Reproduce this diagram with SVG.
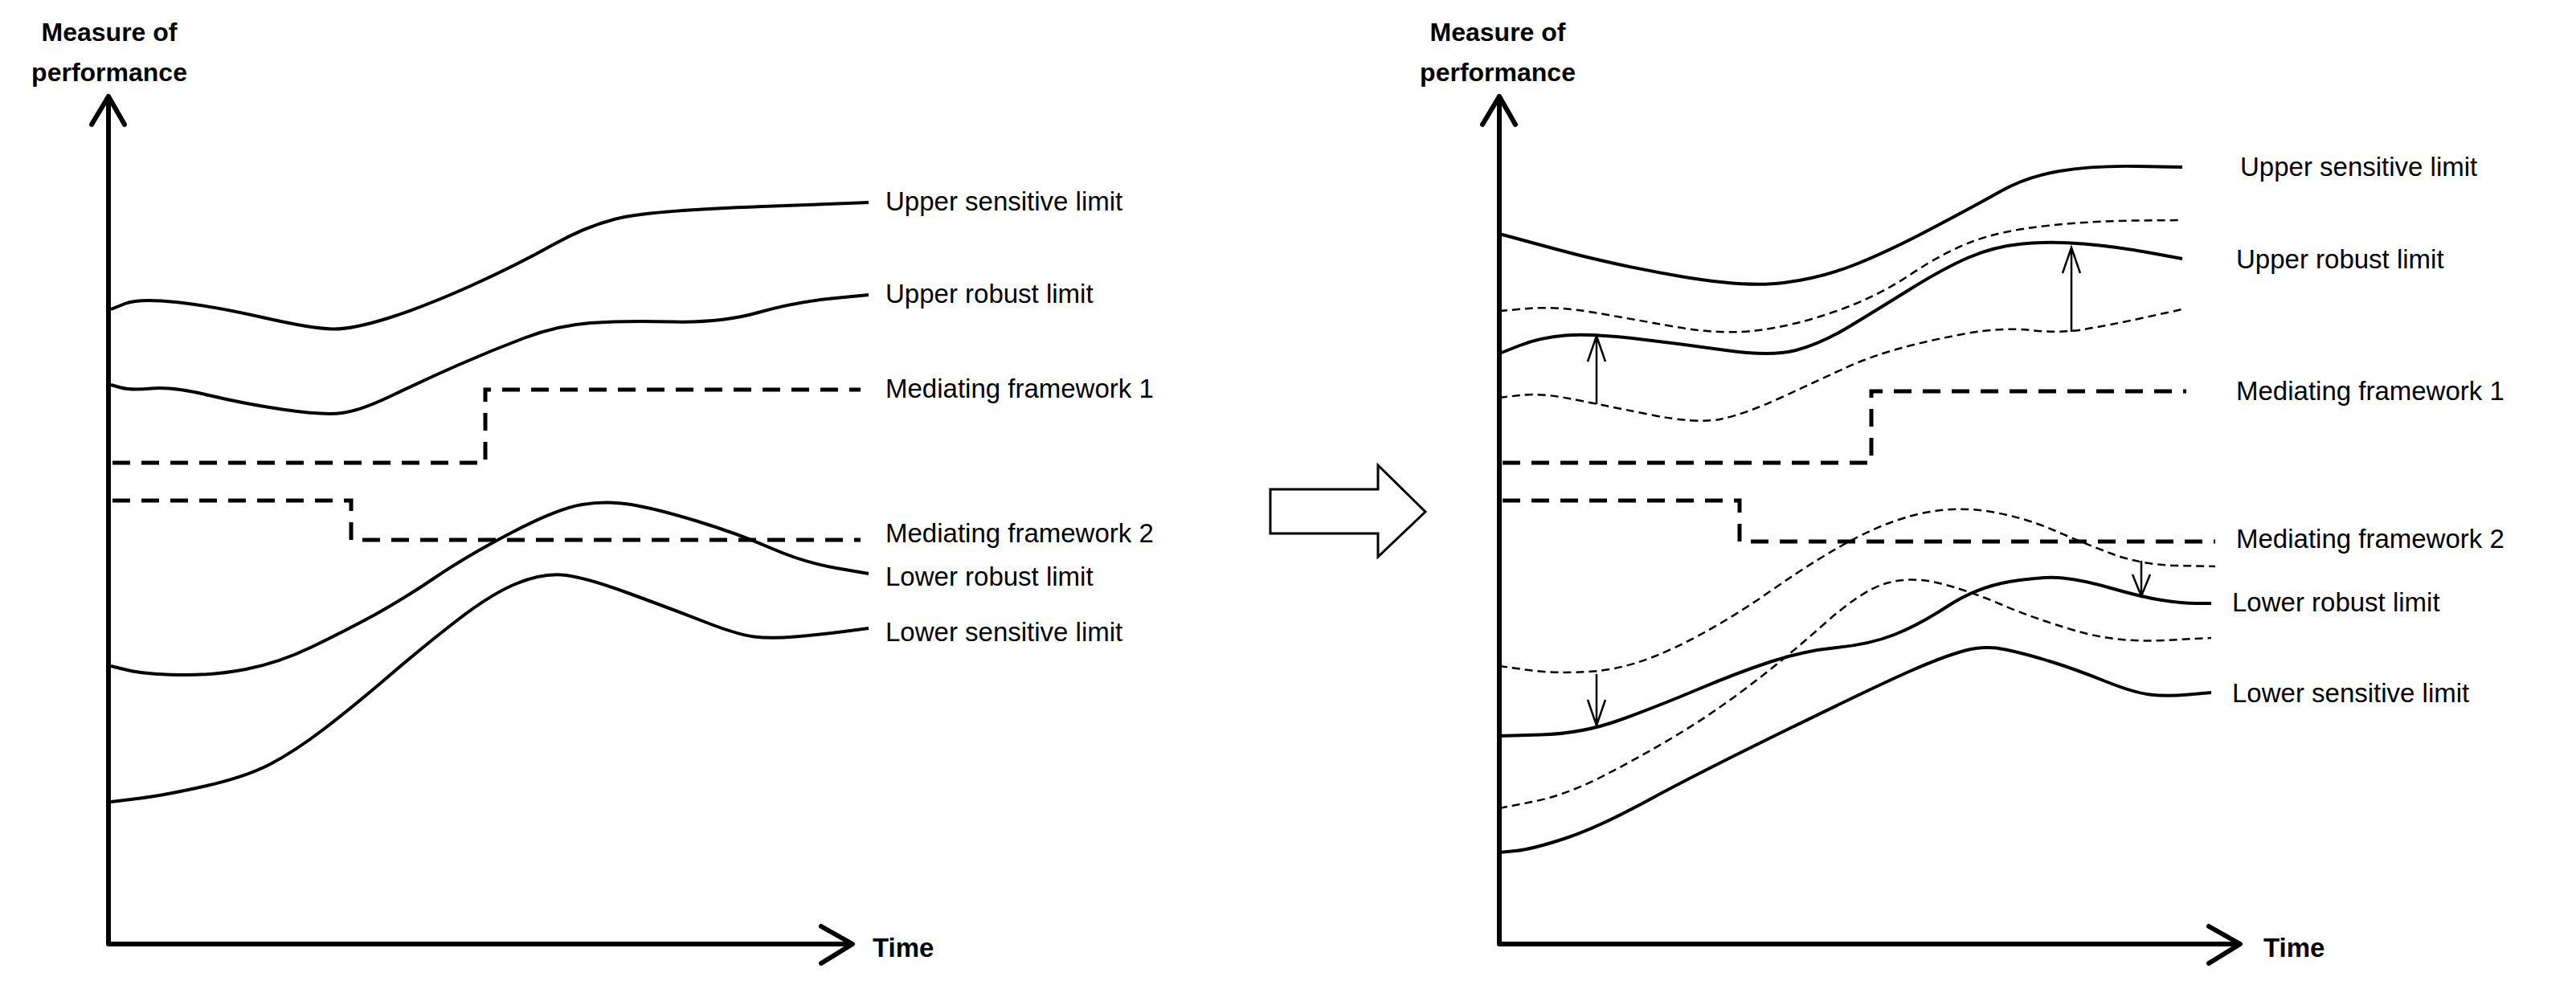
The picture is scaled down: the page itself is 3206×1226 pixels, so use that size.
<svg xmlns="http://www.w3.org/2000/svg" width="3206" height="1226" viewBox="0 0 3206 1226">
<style>
.ax{fill:none;stroke:#000;stroke-width:6;stroke-linecap:round;stroke-linejoin:round}
.c{fill:none;stroke:#000;stroke-width:4}
.mf{fill:none;stroke:#000;stroke-width:5;stroke-dasharray:22 14}
.td{fill:none;stroke:#000;stroke-width:2.5;stroke-dasharray:10 6}
.sa{fill:none;stroke:#000;stroke-width:2.5}
text{font-family:"Liberation Sans",Arial,sans-serif;font-size:33px;fill:#000}
.t{font-weight:bold;text-anchor:middle;font-size:32px}
.tm{font-weight:bold}
</style>
<rect width="3206" height="1226" fill="#fff"/>
<g id="left-axes">
<path class="ax" d="M135,1175 V120 M114,155 L135,120 L155,155 M135,1175 H1059 M1022,1153 L1061,1175 L1022,1199"/>
<text class="t" x="136" y="51">Measure of</text>
<text class="t" x="136" y="101">performance</text>
<text class="tm" x="1086" y="1191">Time</text>
</g>
<g id="left-curves">
<path class="c" d="M138,385 L155.5,378 Q173,371 219,376 Q265,381 326.5,395 Q388,409 413.5,409.5 Q439,410 484.5,395.5 Q530,381 586.5,355.5 Q643,330 688.5,304.5 Q734,279 775,270.5 Q816,262 948.5,257 L1081,252"/>
<path class="c" d="M138,479 L150.5,482.5 Q163,486 188.5,483.5 Q214,481 260,492 Q306,503 354.5,510 Q403,517 426,514 Q449,511 489.5,491.5 Q530,472 571,454 Q612,436 653,420.5 Q694,405 734.5,402 Q775,399 836.5,400.5 Q898,402 943.5,389 Q989,376 1035,371.5 L1081,367"/>
<path class="mf" d="M140,576 H604 V485 H1071"/>
<path class="mf" d="M140,623 H437 V672 H1071"/>
<path class="c" d="M138,829 L158.5,834 Q179,839 222,840 Q265,841 306,833 Q347,825 387.5,805.5 Q428,786 464,766.5 Q500,747 540.5,719.5 Q581,692 637.5,662.5 Q694,633 724.5,628 Q755,623 785.5,628 Q816,633 867,648.5 Q918,664 959,682 Q1000,700 1040.5,707 L1081,714"/>
<path class="c" d="M138,998 L171,994 Q204,990 255,978.5 Q306,967 336.5,951 Q367,935 403,907.5 Q439,880 484.5,841 Q530,802 571,770.5 Q612,739 642.5,726.5 Q673,714 698.5,715.5 Q724,717 780,737.5 Q836,758 877,774 Q918,790 938.5,792.5 Q959,795 989.5,792.5 Q1020,790 1050.5,786 L1081,782"/>
</g>
<g id="left-labels">
<text x="1102" y="262">Upper sensitive limit</text>
<text x="1102" y="377">Upper robust limit</text>
<text x="1102" y="495">Mediating framework 1</text>
<text x="1102" y="675">Mediating framework 2</text>
<text x="1102" y="729">Lower robust limit</text>
<text x="1102" y="798">Lower sensitive limit</text>
</g>
<g id="transition-arrow">
<polygon points="1581,609 1715,609 1715,579 1774,637 1715,693 1715,664 1581,664" fill="#fff" stroke="#000" stroke-width="3"/>
</g>
<g id="right-axes">
<path class="ax" d="M1866,1175 V120 M1845,155 L1866,120 L1886,155 M1866,1175 H2786 M2749,1153 L2788,1175 L2749,1199"/>
<text class="t" x="1864" y="51">Measure of</text>
<text class="t" x="1864" y="101">performance</text>
<text class="tm" x="2817" y="1191">Time</text>
</g>
<g id="right-curves">
<path class="c" d="M1866,291 L1938,310.5 Q2010,330 2091.5,344 Q2173,358 2219.5,352 Q2266,346 2307,330 Q2348,314 2404,284.5 Q2460,255 2491,237.5 Q2522,220 2563,213 Q2604,206 2660,207 L2716,208"/>
<path class="td" d="M1866,387 L1902,384 Q1938,381 1984,389 Q2030,397 2086.5,407 Q2143,417 2189,411 Q2235,405 2286,387 Q2337,369 2378,341.5 Q2419,314 2455,300.5 Q2491,287 2547.5,281 Q2604,275 2660,274.5 L2716,274"/>
<path class="c" d="M1866,440 L1891.5,430 Q1917,420 1948,417.5 Q1979,415 2035.5,421.5 Q2092,428 2148,436 Q2204,444 2235,436 Q2266,428 2301.5,406.5 Q2337,385 2378,359.5 Q2419,334 2450,320.5 Q2481,307 2516.5,303.5 Q2552,300 2593,303.5 Q2634,307 2675,314.5 L2716,322"/>
<path class="td" d="M1866,495 L1891.5,492 Q1917,489 1953,496 Q1989,503 2050.5,515.5 Q2112,528 2142.5,521.5 Q2173,515 2219.5,493.5 Q2266,472 2296.5,458 Q2327,444 2363,434 Q2399,424 2445,415.5 Q2491,407 2527,411 Q2563,415 2593.5,410 Q2624,405 2670,395 L2716,385"/>
<path class="mf" d="M1870,576 H2329 V487 H2721"/>
<path class="mf" d="M1870,623 H2165 V674 H2757"/>
<path class="td" d="M1866,829 L1902,834 Q1938,839 1984,835.5 Q2030,832 2086.5,805 Q2143,778 2204.5,735 Q2266,692 2312,668.5 Q2358,645 2399,637.5 Q2440,630 2481,637.5 Q2522,645 2557.5,660.5 Q2593,676 2629,689.5 Q2665,703 2711,704 L2757,705"/>
<path class="c" d="M1866,916 L1917.5,914.5 Q1969,913 2015,896.5 Q2061,880 2112,858.5 Q2163,837 2204,823.5 Q2245,810 2286,806 Q2327,802 2357.5,790 Q2388,778 2424,754.5 Q2460,731 2501,724 Q2542,717 2567.5,719.5 Q2593,722 2629,732.5 Q2665,743 2690.5,747 Q2716,751 2734,751 L2752,751"/>
<path class="td" d="M1866,1006 L1907,998 Q1948,990 1994,966.5 Q2040,943 2086,915.5 Q2132,888 2178.5,852.5 Q2225,817 2271,776 Q2317,735 2347.5,726 Q2378,717 2414,726 Q2450,735 2491,752.5 Q2532,770 2583,785 Q2634,800 2693,797 L2752,794"/>
<path class="c" d="M1866,1061 L1886.5,1059 Q1907,1057 1948,1043.5 Q1989,1030 2050.5,996.5 Q2112,963 2224.5,908 Q2337,853 2378,835 Q2419,817 2444.5,810 Q2470,803 2496,808.5 Q2522,814 2552.5,823.5 Q2583,833 2619,847.5 Q2655,862 2675.5,864.5 Q2696,867 2724,864.5 L2752,862"/>
</g>
<g id="shift-arrows">
<path class="sa" d="M1987,503 V418 M1976,450 L1987,418 L1998,450"/>
<path class="sa" d="M2578,413 V308 M2567,340 L2578,308 L2589,340"/>
<path class="sa" d="M1987,839 V903 M1976,871 L1987,903 L1998,871"/>
<path class="sa" d="M2665,698 V742 M2654,715 L2665,742 L2676,715"/>
</g>
<g id="right-labels">
<text x="2788" y="219">Upper sensitive limit</text>
<text x="2783" y="334">Upper robust limit</text>
<text x="2783" y="498">Mediating framework 1</text>
<text x="2783" y="682">Mediating framework 2</text>
<text x="2778" y="761">Lower robust limit</text>
<text x="2778" y="874">Lower sensitive limit</text>
</g>
</svg>
